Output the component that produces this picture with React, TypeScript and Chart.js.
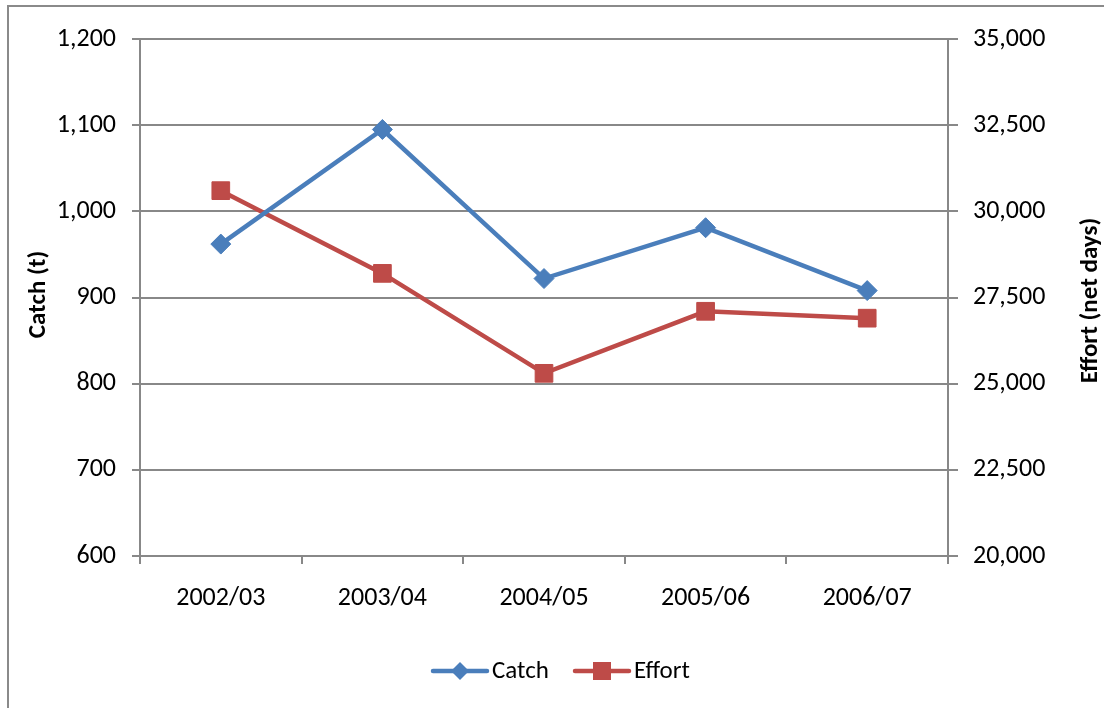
import { useEffect, useRef } from "react";
import { Chart, registerables } from "chart.js";

Chart.register(...registerables);

const seasons = ["2002/03", "2003/04", "2004/05", "2005/06", "2006/07"];
const catchTonnes = [962, 1095, 922, 981, 908];
const effortNetDays = [30600, 28200, 25300, 27100, 26900];

const catchTicks = [600, 700, 800, 900, 1000, 1100, 1200];
const effortTicks = [20000, 22500, 25000, 27500, 30000, 32500, 35000];

const BLUE = "#4a7ebb";
const RED = "#be4b48";
const GRID = "#888888";
const FONT = "Carlito, Calibri, Lato, 'Open Sans', sans-serif";
const TICK_SIZE = 26;

const fmt = (v: number) => Number(v).toLocaleString("en-US");

// Frame, axis titles and a line-with-marker legend drawn straight onto the canvas
const decorations = {
  id: "decorations",
  afterDraw(chart: any) {
    const { ctx, chartArea } = chart;
    ctx.save();
    ctx.strokeStyle = "#8a8a8a";
    ctx.lineWidth = 2;
    ctx.beginPath();
    ctx.moveTo(8, 710);
    ctx.lineTo(8, 6);
    ctx.lineTo(1110, 6);
    ctx.stroke();

    ctx.fillStyle = "#000";
    ctx.font = `bold 25px ${FONT}`;
    ctx.textAlign = "center";
    ctx.textBaseline = "middle";
    const midY = (chartArea.top + chartArea.bottom) / 2;
    ctx.save();
    ctx.translate(39, midY - 3);
    ctx.rotate(-Math.PI / 2);
    ctx.fillText("Catch (t)", 0, 0);
    ctx.restore();
    ctx.save();
    ctx.translate(1091, midY + 3);
    ctx.rotate(-Math.PI / 2);
    ctx.fillText("Effort (net days)", 0, 0);
    ctx.restore();

    const ly = 671;
    const items = [
      { x: 433, label: "Catch", color: BLUE, shape: "diamond" },
      { x: 575, label: "Effort", color: RED, shape: "square" },
    ];
    ctx.font = `25px ${FONT}`;
    ctx.textAlign = "left";
    for (const it of items) {
      ctx.strokeStyle = it.color;
      ctx.fillStyle = it.color;
      ctx.lineWidth = 4.5;
      ctx.lineCap = "round";
      ctx.beginPath();
      ctx.moveTo(it.x, ly);
      ctx.lineTo(it.x + 54, ly);
      ctx.stroke();
      const cx = it.x + 27;
      ctx.beginPath();
      if (it.shape === "diamond") {
        ctx.moveTo(cx, ly - 9);
        ctx.lineTo(cx + 9, ly);
        ctx.lineTo(cx, ly + 9);
        ctx.lineTo(cx - 9, ly);
        ctx.closePath();
      } else {
        ctx.rect(cx - 9, ly - 9, 18, 18);
      }
      ctx.fill();
      ctx.fillStyle = "#000";
      ctx.fillText(it.label, it.x + 59, ly + 1);
    }
    ctx.restore();
  },
};

export default function App() {
  const ref = useRef<HTMLCanvasElement>(null);

  useEffect(() => {
    if (!ref.current) return;
    const chart = new Chart(ref.current, {
      type: "line",
      data: {
        labels: seasons,
        datasets: [
          {
            label: "Catch",
            data: catchTonnes,
            yAxisID: "y",
            borderColor: BLUE,
            backgroundColor: BLUE,
            borderWidth: 4.5,
            pointStyle: "rectRot",
            pointRadius: 10,
            pointBorderWidth: 1,
            tension: 0,
          },
          {
            label: "Effort",
            data: effortNetDays,
            yAxisID: "y1",
            borderColor: RED,
            backgroundColor: RED,
            borderWidth: 4.5,
            pointStyle: "rect",
            pointRadius: 12.5,
            pointBorderWidth: 1,
            tension: 0,
          },
        ],
      },
      options: {
        responsive: false,
        animation: false,
        events: [],
        layout: { padding: { top: 39, left: 0, right: 0, bottom: 0 } },
        plugins: { legend: { display: false }, tooltip: { enabled: false } },
        scales: {
          x: {
            offset: true,
            grid: {
              offset: true,
              drawOnChartArea: false,
              drawTicks: true,
              tickLength: 8,
              color: GRID,
              lineWidth: 2,
            },
            border: { color: GRID, width: 2 },
            ticks: { color: "#000", font: { family: FONT, size: TICK_SIZE }, padding: 19, maxRotation: 0 },
            afterFit: (s: any) => {
              s.height = 708 - 556;
            },
          },
          y: {
            position: "left",
            min: 600,
            max: 1200,
            afterBuildTicks: (s: any) => {
              s.ticks = catchTicks.map((v) => ({ value: v }));
            },
            grid: { color: GRID, lineWidth: 2, tickLength: 8 },
            border: { color: GRID, width: 2 },
            ticks: {
              color: "#000",
              font: { family: FONT, size: TICK_SIZE },
              padding: 16,
              callback: (v: any) => fmt(v),
            },
            afterFit: (s: any) => {
              s.width = 140;
            },
          },
          y1: {
            position: "right",
            min: 20000,
            max: 35000,
            afterBuildTicks: (s: any) => {
              s.ticks = effortTicks.map((v) => ({ value: v }));
            },
            grid: { drawOnChartArea: false, color: GRID, lineWidth: 2, tickLength: 10 },
            border: { color: GRID, width: 2 },
            ticks: {
              color: "#000",
              font: { family: FONT, size: TICK_SIZE },
              padding: 15,
              callback: (v: any) => fmt(v),
            },
            afterFit: (s: any) => {
              s.width = 1104 - 948;
            },
          },
        },
      },
      plugins: [decorations],
    });
    return () => chart.destroy();
  }, []);

  return (
    <div style={{ position: "fixed", left: 0, top: 0, width: 1104, height: 708, background: "#fff" }}>
      <canvas ref={ref} width={1104} height={708} style={{ display: "block" }} />
    </div>
  );
}
